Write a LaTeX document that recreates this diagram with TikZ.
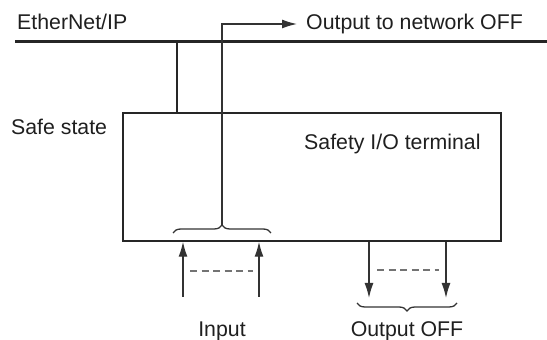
\documentclass[tikz,border=0pt]{standalone}
\usepackage{fontspec}
\setmainfont{Liberation Sans}
\usetikzlibrary{arrows.meta,decorations.pathreplacing}
\begin{document}
\begin{tikzpicture}[x=1pt,y=1pt,
  lbl/.style={inner sep=0pt,anchor=base west,font=\fontsize{21.3}{25}\selectfont,text=black!88},
  bus/.style={line width=3pt,draw=black!85},
  thin/.style={line width=1.3pt,draw=black!80},
  tip/.style={-{Latex[length=15pt,width=9pt]}},
  arr/.style={thin,tip},
  dsh/.style={line width=1.3pt,draw=black!55,dash pattern=on 7pt off 4.5pt},
  brc/.style={thin,decorate,decoration={brace,amplitude=8pt}}]
\useasboundingbox (0,0) rectangle (547,340);
% texts
\node[lbl] (eth) at (17,310) {EtherNet/IP};
\node[lbl] (out) at (306,310) {Output to network OFF};
\node[lbl] (safe) at (11,205) {Safe state};
\node[lbl] (term) at (304,190) {Safety I/O terminal};
\node[lbl,anchor=base] (inp) at (222,3) {Input};
\node[lbl,anchor=base] (outoff) at (407,3) {Output OFF};
% box
\node[draw=black!85,line width=1.5pt,inner sep=0pt,minimum width=378pt,minimum height=128pt] (box) at (312,163) {};
% bus
\coordinate (busL) at (15,298);
\coordinate (busR) at (547,298);
\coordinate (busT) at (177,298);
\draw[bus] (busL) -- (busR);
\draw[line width=2.5pt,draw=black!85] (busT) -- (busT |- box.north);
% input brace and line to network
\coordinate (ibL) at (173,107);
\coordinate (ibR) at (271,107);
\coordinate (ibT) at (222,115);
\coordinate (netC) at (222,316);
\coordinate (netE) at (297,316);
\draw[brc] (ibL) -- (ibR);
\draw[thin,tip] (ibT) -- (netC) -- (netE);
% input arrows
\coordinate (i1) at (183,43);
\coordinate (i2) at (259,43);
\draw[arr] (i1) -- (i1 |- box.south);
\draw[arr] (i2) -- (i2 |- box.south);
\coordinate (id1) at (190,69);
\coordinate (id2) at (253,69);
\draw[dsh] (id1) -- (id2);
% output arrows
\coordinate (o1) at (369,42);
\coordinate (o2) at (446,42);
\draw[arr] (o1 |- box.south) -- (o1);
\draw[arr] (o2 |- box.south) -- (o2);
\coordinate (od1) at (377,70);
\coordinate (od2) at (439,70);
\draw[dsh] (od1) -- (od2);
% output brace
\coordinate (obR) at (457,37);
\coordinate (obL) at (357,37);
\draw[brc] (obR) -- (obL);
\end{tikzpicture}
\end{document}
